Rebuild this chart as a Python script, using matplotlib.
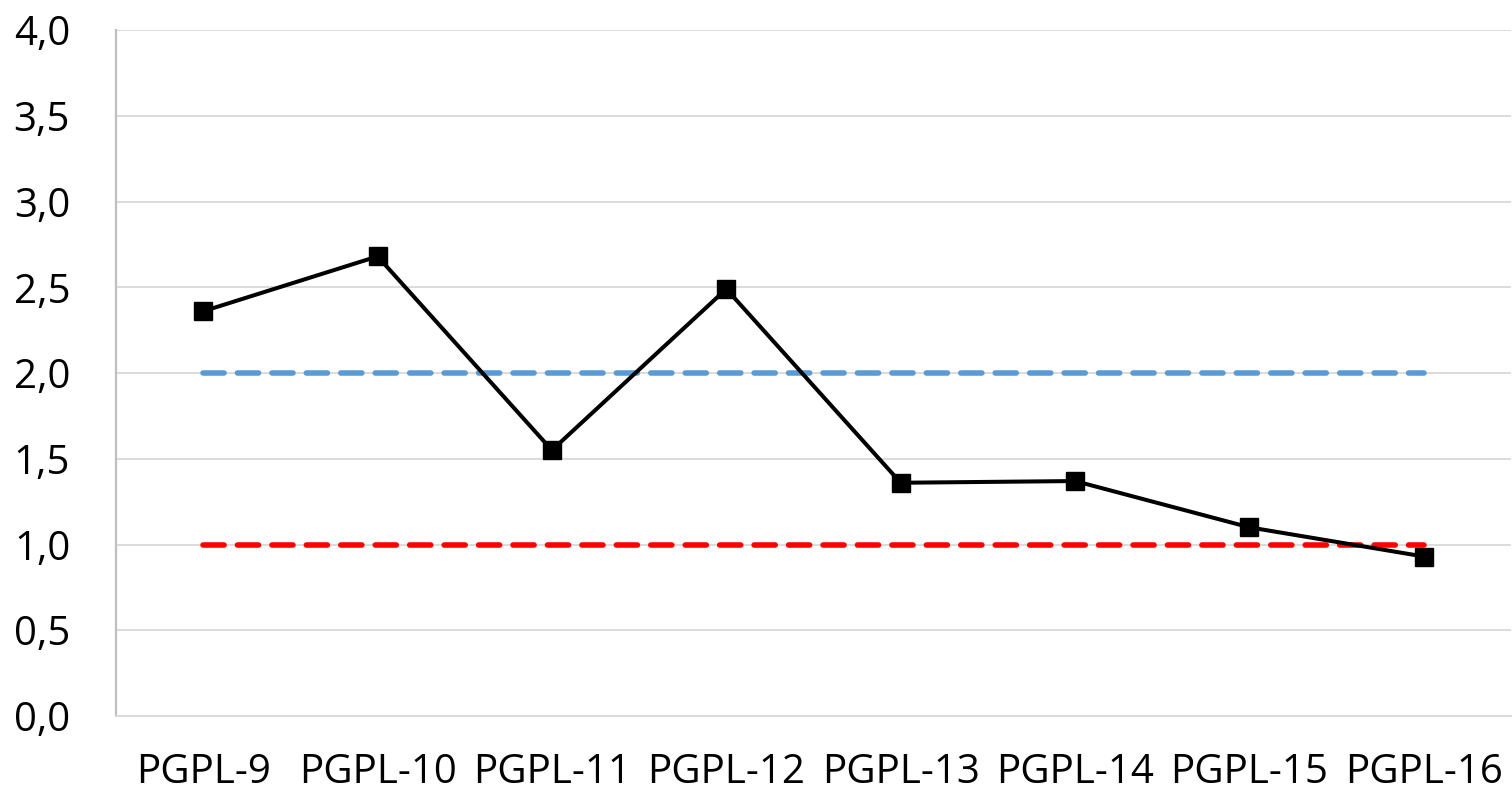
import matplotlib
matplotlib.use("Agg")
import matplotlib.pyplot as plt
from matplotlib.ticker import FixedLocator, FuncFormatter

categories = ["PGPL-9", "PGPL-10", "PGPL-11", "PGPL-12", "PGPL-13", "PGPL-14", "PGPL-15", "PGPL-16"]
values = [2.36, 2.68, 1.55, 2.49, 1.36, 1.37, 1.10, 0.93]
upper_ref = [2.0] * len(categories)
lower_ref = [1.0] * len(categories)
yticks = [0.0, 0.5, 1.0, 1.5, 2.0, 2.5, 3.0, 3.5, 4.0]

plt.rcParams['font.family'] = ['Open Sans', 'DejaVu Sans']

fig = plt.figure(figsize=(15.12, 7.94), dpi=100)
ax = fig.add_axes([116/1512, 1-716/794, (1511-116)/1512, (716-30)/794])

x = list(range(len(categories)))
ax.plot(x, upper_ref, color="#5b9bd5", lw=4, dashes=(3.8, 2.4), dash_capstyle='round', zorder=2)
ax.plot(x, lower_ref, color="#ff0000", lw=4, dashes=(3.8, 2.4), dash_capstyle='round', zorder=2)
ax.plot(x, values, color="black", lw=2.9, marker="s", markersize=13, zorder=3)

ax.set_xlim(-0.5, len(categories) - 0.5)
ax.set_ylim(0, 4.0)
ax.yaxis.set_major_locator(FixedLocator(yticks))
ax.yaxis.set_major_formatter(FuncFormatter(lambda v, p: f"{v:.1f}".replace(".", ",")))
ax.set_xticks(x)
ax.set_xticklabels(categories)
ax.grid(axis="y", color="#d9d9d9", lw=1.3, zorder=0)
ax.set_axisbelow(True)

for s in ["top", "right"]:
    ax.spines[s].set_visible(False)
ax.spines["left"].set_color("#bfbfbf")
ax.spines["left"].set_linewidth(1.6)
ax.spines["bottom"].set_color("#d9d9d9")
ax.spines["bottom"].set_linewidth(1.3)

ax.tick_params(axis="both", length=0, labelsize=29, labelcolor="black")
ax.tick_params(axis="y", pad=33)
ax.tick_params(axis="x", pad=26)

fig.savefig("out.png", dpi=100)
